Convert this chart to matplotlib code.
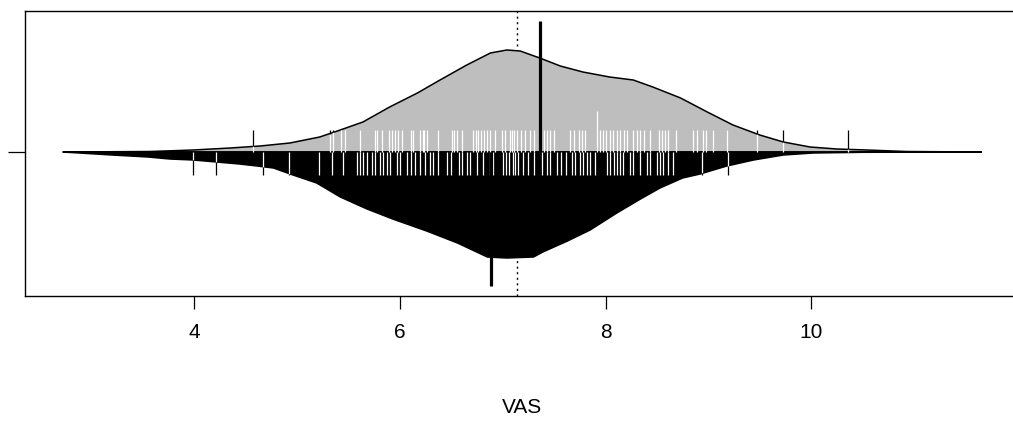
#Beanplot de dos lados para VAS
#Valores

import numpy as np
import matplotlib.pyplot as plt
from matplotlib.collections import LineCollection

plt.rcParams['font.family'] = ['Liberation Sans', 'DejaVu Sans']

#Perfil de densidad, mitad superior (gris)
gris_v = [2.72, 3.57, 3.99, 4.35, 4.64, 4.93, 5.22, 5.42, 5.64, 5.90, 6.17, 6.39, 6.65, 6.88,
          7.04, 7.17, 7.36, 7.56, 7.78, 8.04, 8.27, 8.46, 8.73, 8.99, 9.24, 9.50, 9.73, 9.99,
          10.25, 10.54, 10.93, 11.66]
gris_h = [0, .005, .02, .04, .06, .09, .15, .22, .30, .45, .59, .72, .87, .99,
          1.02, 1.01, .94, .86, .80, .75, .72, .65, .54, .40, .27, .17, .10, .05,
          .03, .02, .005, 0]

#Perfil de densidad, mitad inferior (negra)
negro_v = [2.72, 3.20, 3.55, 3.76, 3.99, 4.44, 4.61, 4.77, 4.96, 5.19, 5.42, 5.68, 5.93, 6.26,
           6.56, 6.85, 7.04, 7.30, 7.39, 7.63, 7.85, 8.11, 8.34, 8.53, 8.75, 8.92, 9.18, 9.44,
           9.73, 10.02, 10.50, 11.66]
negro_h = [0, .03, .05, .07, .08, .12, .14, .16, .23, .31, .45, .57, .67, .79,
           .91, 1.05, 1.06, 1.05, 1.00, .89, .78, .61, .47, .36, .26, .22, .14, .08,
           .03, .01, .003, 0]

#Observaciones individuales (beanlines)
gris_datos = [4.57, 5.32, 5.35, 5.43, 5.47, 5.61, 5.76, 5.78, 5.83, 5.89, 5.92, 5.95, 5.98, 6.02,
              6.11, 6.13, 6.20, 6.22, 6.23, 6.26, 6.37, 6.51, 6.53, 6.56, 6.60, 6.71, 6.74, 6.76,
              6.79, 6.82, 6.85, 6.88, 6.92, 6.99, 7.02, 7.07, 7.09, 7.11, 7.14, 7.18, 7.22, 7.27,
              7.30, 7.40, 7.43, 7.46, 7.50, 7.65, 7.69, 7.74, 7.77, 7.80, 7.92, 7.92, 7.95, 7.98,
              8.00, 8.04, 8.07, 8.11, 8.14, 8.18, 8.21, 8.27, 8.31, 8.34, 8.37, 8.43, 8.52, 8.55,
              8.58, 8.61, 8.69, 8.85, 8.89, 8.95, 8.98, 9.05, 9.18, 9.47, 9.73, 10.36]
negro_datos = [3.99, 4.21, 4.67, 4.92, 5.21, 5.34, 5.45, 5.58, 5.61, 5.64, 5.68, 5.73, 5.76, 5.81,
               5.84, 5.87, 5.90, 5.97, 6.00, 6.07, 6.11, 6.15, 6.20, 6.24, 6.29, 6.32, 6.37, 6.46,
               6.50, 6.57, 6.60, 6.65, 6.68, 6.75, 6.81, 6.88, 6.91, 7.00, 7.03, 7.06, 7.10, 7.12,
               7.15, 7.20, 7.25, 7.30, 7.38, 7.43, 7.46, 7.53, 7.57, 7.62, 7.67, 7.70, 7.75, 7.78,
               7.82, 7.85, 7.90, 8.01, 8.04, 8.08, 8.11, 8.14, 8.17, 8.24, 8.27, 8.34, 8.40, 8.43,
               8.50, 8.53, 8.56, 8.61, 8.66, 8.94, 9.19]

#Medias
media_gris = 7.36
media_negro = 6.89
media_total = 7.14

fig = plt.figure(figsize=(10.13, 4.37), dpi=100)
ax = fig.add_axes([25/1013, 141.3/437, 994/1013, 284.7/437])
ax.set_xlim(2.353, 12.022)
ax.set_ylim(1 - 1.437, 1 + 1.41)

#Linea de la media general (punteada, queda detras)
ax.axvline(media_total, color='black', lw=1.0, ls=(0, (1.5, 2.5)), zorder=1)

#Las dos mitades del bean
gv, gh = np.array(gris_v), np.array(gris_h)
nv, nh = np.array(negro_v), np.array(negro_h)
ax.fill(np.r_[gv, gv[::-1]], np.r_[1 + gh, np.ones_like(gh)], facecolor='#bebebe',
        edgecolor='black', lw=1.1, zorder=2)
ax.fill(np.r_[nv, nv[::-1]], np.r_[1 - nh, np.ones_like(nh)], facecolor='black',
        edgecolor='black', lw=1.1, zorder=2)

#Beanlines: blancas dentro del bean y negras por fuera
def beanlines(datos, perfil_v, perfil_h, signo, largo):
    vals, cuenta = np.unique(datos, return_counts=True)
    dentro, fuera = [], []
    for v, c in zip(vals, cuenta):
        L = largo + 0.19 * (c - 1)
        hb = np.interp(v, perfil_v, perfil_h)
        dentro.append([(v, 1), (v, 1 + signo * min(L, hb))])
        if L > hb:
            fuera.append([(v, 1 + signo * hb), (v, 1 + signo * L)])
    ax.add_collection(LineCollection(dentro, colors='white', lw=0.9, zorder=3))
    ax.add_collection(LineCollection(fuera, colors='black', lw=0.9, zorder=3))

beanlines(gris_datos, gv, gh, 1, 0.22)
beanlines(negro_datos, nv, nh, -1, 0.23)

#Medias de cada lado
ax.plot([media_gris, media_gris], [1, 1 + 1.31], color='black', lw=2.3, solid_capstyle='butt', zorder=4)
ax.plot([media_negro, media_negro], [1, 1 - 1.34], color='black', lw=2.3, solid_capstyle='butt', zorder=4)

#Ejes (el borde derecho queda fuera de la imagen)
ax.spines['right'].set_visible(False)
ax.set_xticks([4, 6, 8, 10])
ax.set_yticks([1])
ax.set_yticklabels([])
ax.tick_params(axis='x', length=9, width=0.9, pad=11, labelsize=15)
ax.tick_params(axis='y', length=12, width=0.9)
for s in ax.spines.values():
    s.set_linewidth(1.0)
ax.set_xlabel('VAS', fontsize=15, labelpad=40)

fig.savefig('out.png', dpi=100)
